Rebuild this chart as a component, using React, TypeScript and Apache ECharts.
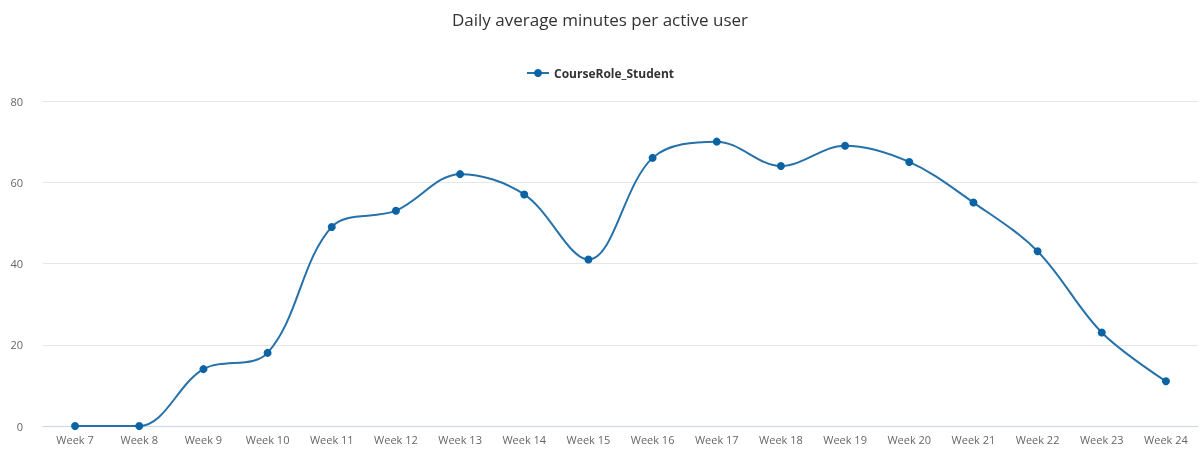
import React, { useEffect, useRef } from "react";
import * as echarts from "echarts";

const categories = ["Week 7", "Week 8", "Week 9", "Week 10", "Week 11", "Week 12", "Week 13", "Week 14", "Week 15", "Week 16", "Week 17", "Week 18", "Week 19", "Week 20", "Week 21", "Week 22", "Week 23", "Week 24"];
const studentValues = [0, 0, 14, 18, 49, 53, 62, 57, 41, 66, 70, 64, 69, 65, 55, 43, 23, 11];
const seriesName = "CourseRole_Student";
const titleText = "Daily average minutes per active user";

export default function App() {
  const ref = useRef<HTMLDivElement>(null);
  useEffect(() => {
    if (!ref.current) return;
    const chart = echarts.init(ref.current, null, { renderer: "svg" });
    chart.setOption({
      animation: false,
      textStyle: { fontFamily: "Open Sans" },
      title: {
        text: titleText,
        left: "center",
        top: 6,
        textStyle: { fontSize: 17, fontWeight: "normal", color: "#333", fontFamily: "Open Sans" },
      },
      legend: {
        top: 62,
        left: "center",
        itemWidth: 22,
        itemHeight: 10,
        textStyle: { fontWeight: "bold", fontSize: 12, color: "#333" },
        data: [seriesName],
      },
      grid: { left: 43, right: 2, top: 101, bottom: 24 },
      xAxis: {
        type: "category",
        data: categories,
        boundaryGap: true,
        axisLine: { lineStyle: { color: "#ccd6eb" } },
        axisTick: { lineStyle: { color: "#ccd6eb" }, length: 6 },
        axisLabel: { color: "#666", fontSize: 11, margin: 8 },
      },
      yAxis: {
        type: "value",
        min: 0,
        max: 80,
        interval: 20,
        axisLine: { show: false },
        axisTick: { show: false },
        axisLabel: { color: "#666", fontSize: 11, margin: 20 },
        splitLine: { lineStyle: { color: "#e6e6e6" } },
      },
      series: [
        {
          name: seriesName,
          type: "line",
          data: studentValues,
          smooth: 0.35,
          symbol: "circle",
          symbolSize: 8,
          color: "#0b63a3",
          lineStyle: { color: "#2571aa", width: 2 },
          itemStyle: { color: "#0b63a3" },
        },
      ],
    });
    return () => chart.dispose();
  }, []);
  return <div ref={ref} style={{ position: "fixed", left: 0, top: 0, width: 1200, height: 450 }} />;
}
